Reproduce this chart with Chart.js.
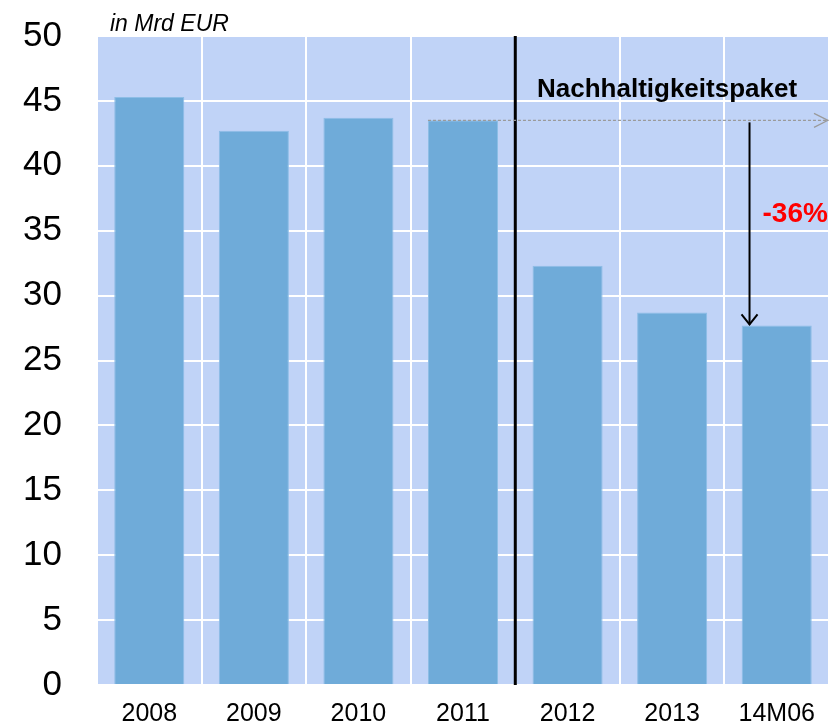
<!DOCTYPE html>
<html>
<head>
<meta charset="utf-8">
<script src="https://cdn.jsdelivr.net/npm/chart.js@4"></script>
<style>
  html, body { margin: 0; padding: 0; background: #ffffff; }
  #wrap { width: 831px; height: 727px; }
</style>
</head>
<body>
<div id="wrap"><canvas id="chart"></canvas></div>
<script>
const categories = ['2008', '2009', '2010', '2011', '2012', '2013', '14M06']
const values = [45.3, 42.7, 43.7, 43.5, 32.3, 28.7, 27.7]
const yTicks = [0, 5, 10, 15, 20, 25, 30, 35, 40, 45, 50]
const unitLabel = 'in Mrd EUR'
const packageLabel = 'Nachhaltigkeitspaket'
const changeLabel = '-36%'
// index of the first year after the package, and the compared pair
const splitIndex = 4
const fromIndex = 3
const toIndex = 6

// light blue plot background
const plotBackground = {
  id: 'plotBackground',
  beforeDraw(chart) {
    const { ctx, chartArea } = chart
    ctx.save()
    ctx.fillStyle = '#c0d3f7'
    ctx.fillRect(chartArea.left, chartArea.top, chartArea.right - chartArea.left, chartArea.bottom - chartArea.top)
    ctx.restore()
  }
}

// separator, arrows and labels
const annotations = {
  id: 'annotations',
  afterDatasetsDraw(chart) {
    const { ctx, chartArea, scales } = chart
    const x = scales.x
    const y = scales.y
    const step = x.getPixelForValue(1) - x.getPixelForValue(0)
    ctx.save()

    // vertical separator between 2011 and 2012
    const sepX = (x.getPixelForValue(splitIndex - 1) + x.getPixelForValue(splitIndex)) / 2
    ctx.strokeStyle = '#000000'
    ctx.lineWidth = 3
    ctx.beginPath()
    ctx.moveTo(sepX, chartArea.top)
    ctx.lineTo(sepX, chartArea.bottom)
    ctx.stroke()

    // dashed reference arrow at the 2011 level
    const refY = y.getPixelForValue(values[fromIndex])
    const startX = x.getPixelForValue(fromIndex) - step * 0.335
    const endX = chartArea.right - 1
    ctx.strokeStyle = '#9a9a9a'
    ctx.lineWidth = 1.2
    ctx.setLineDash([3, 2])
    ctx.beginPath()
    ctx.moveTo(startX, refY)
    ctx.lineTo(endX, refY)
    ctx.stroke()
    ctx.setLineDash([])
    ctx.beginPath()
    ctx.moveTo(endX - 14, refY - 7)
    ctx.lineTo(endX, refY)
    ctx.lineTo(endX - 14, refY + 7)
    ctx.stroke()

    // drop arrow to the last bar
    const arrowX = x.getPixelForValue(toIndex) - step * 0.26
    const arrowTop = refY + 2
    const arrowBottom = y.getPixelForValue(values[toIndex]) - 1
    ctx.strokeStyle = '#000000'
    ctx.lineWidth = 2
    ctx.beginPath()
    ctx.moveTo(arrowX, arrowTop)
    ctx.lineTo(arrowX, arrowBottom)
    ctx.stroke()
    ctx.beginPath()
    ctx.moveTo(arrowX - 8, arrowBottom - 10)
    ctx.lineTo(arrowX, arrowBottom)
    ctx.lineTo(arrowX + 8, arrowBottom - 10)
    ctx.stroke()

    // labels
    ctx.fillStyle = '#000000'
    ctx.font = 'bold 26px "Liberation Sans", Arial, sans-serif'
    ctx.textAlign = 'left'
    ctx.textBaseline = 'alphabetic'
    ctx.fillText(packageLabel, 537, 97)

    ctx.fillStyle = '#ff0000'
    ctx.font = 'bold 28px "Liberation Sans", Arial, sans-serif'
    ctx.fillText(changeLabel, arrowX + 13, 222)

    ctx.fillStyle = '#000000'
    ctx.font = 'italic 23px "Liberation Sans", Arial, sans-serif'
    ctx.fillText(unitLabel, 110, 31)
    ctx.restore()
  }
}

new Chart(document.getElementById('chart'), {
  type: 'bar',
  data: {
    labels: categories,
    datasets: [{
      label: unitLabel,
      data: values,
      backgroundColor: '#6fabd9',
      borderColor: '#8dbde6',
      borderWidth: 1,
      categoryPercentage: 1,
      barPercentage: 0.67
    }]
  },
  options: {
    responsive: true,
    maintainAspectRatio: false,
    animation: false,
    layout: {
      padding: { top: 36, right: 2, bottom: 0, left: 0 }
    },
    plugins: {
      legend: { display: false },
      tooltip: { enabled: false }
    },
    scales: {
      x: {
        grid: { color: '#ffffff', lineWidth: 2, drawTicks: false, offset: true },
        border: { display: false },
        ticks: {
          color: '#000000',
          padding: 14,
          font: { family: '"Liberation Sans Narrow", "Liberation Sans", Arial', size: 25 }
        },
        afterFit(axis) { axis.height = 42 }
      },
      y: {
        min: 0,
        max: 50,
        afterBuildTicks(axis) { axis.ticks = yTicks.map(v => ({ value: v })) },
        grid: { color: '#ffffff', lineWidth: 2, drawTicks: false },
        border: { display: false },
        ticks: {
          color: '#000000',
          padding: 35,
          font: { family: '"Liberation Sans", Arial', size: 35 }
        },
        afterFit(axis) {
          // tick padding is meant to be horizontal only
          axis.width = 97
          axis.paddingTop = 0
          axis.paddingBottom = 0
        }
      }
    }
  },
  plugins: [plotBackground, annotations]
})
</script>
</body>
</html>
